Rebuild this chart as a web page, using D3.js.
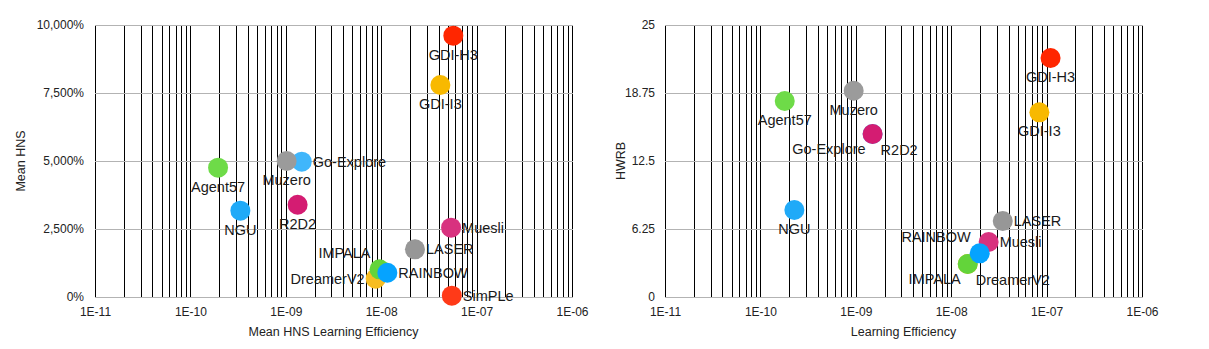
<!DOCTYPE html>
<html>
<head>
<meta charset="utf-8">
<script src="https://cdn.jsdelivr.net/npm/d3@7"></script>
<style>
  html, body { margin: 0; padding: 0; background: #fff; }
  svg { display: block; font-family: "Liberation Sans", Arial, Helvetica, sans-serif; }
</style>
</head>
<body>
<svg id="chart" width="1209" height="349"></svg>
<script>
// ---- Data ----
const models   = ["DreamerV2","Go-Explore","Muzero","R2D2","IMPALA","Muesli","RAINBOW","Agent57","NGU","LASER","SimPLe","GDI-I3","GDI-H3"];
const colors   = ["#f7bd22","#40b6fb","#9b9b9b","#d41c72","#63d43a","#d8327f","#05a3ff","#6edb48","#20aaf8","#979797","#ff3a18","#f8b900","#ff2600"];
// Left chart
const meanHnsEfficiency = [8.75e-9, 1.47e-9, 1.02e-9, 1.33e-9, 9.6e-9, 5.4e-8, 1.16e-8, 1.95e-10, 3.34e-10, 2.26e-8, 5.5e-8, 4.17e-8, 5.7e-8];
const meanHns           = [673, 4975, 5000, 3393, 1018, 2548, 893, 4754, 3173, 1753, 48, 7794, 9607];
// Right chart (SimPLe not shown)
const learningEfficiency = [1.49e-8, 1.5e-9, 9.5e-10, 1.5e-9, 1.49e-8, 2.47e-8, 1.99e-8, 1.8e-10, 2.27e-10, 3.47e-8, null, 8.4e-8, 1.1e-7];
const hwrb               = [3.03, 14.98, 18.96, 14.98, 3.03, 5.06, 4.01, 18.01, 8.0, 6.99, null, 16.97, 21.97];
// Tick labels
const xTickValues = [1e-11, 1e-10, 1e-9, 1e-8, 1e-7, 1e-6];
const xTickLabels = ["1E-11","1E-10","1E-09","1E-08","1E-07","1E-06"];
const leftYTicks  = [0, 2500, 5000, 7500, 10000];
const leftYLabels = ["0%","2,500%","5,000%","7,500%","10,000%"];
const rightYTicks  = [0, 6.25, 12.5, 18.75, 25];
const rightYLabels = ["0","6.25","12.5","18.75","25"];

// ---- Label placement (layout) ----
const leftPlacement = {
  "DreamerV2":"left","Go-Explore":"right","Muzero":"below","R2D2":"below","IMPALA":"leftAbove",
  "Muesli":"right","RAINBOW":"right","Agent57":"below","NGU":"below","LASER":"right",
  "SimPLe":"right","GDI-I3":"below","GDI-H3":"below"
};
const rightPlacement = {
  "DreamerV2":"rightBelow","Go-Explore":"leftBelow","Muzero":"below","R2D2":"rightBelow","IMPALA":"leftBelow",
  "Muesli":"right","RAINBOW":"leftAbove","Agent57":"below","NGU":"below","LASER":"right",
  "GDI-I3":"below","GDI-H3":"below"
};
const offsets = {
  below:      {dx: 0,   dy: 24, anchor: "middle"},
  right:      {dx: 11,  dy: 5,  anchor: "start"},
  left:       {dx: -11, dy: 5,  anchor: "end"},
  leftAbove:  {dx: -9,  dy: -11,anchor: "end"},
  leftBelow:  {dx: -7,  dy: 20, anchor: "end"},
  rightBelow: {dx: 8,   dy: 21, anchor: "start"}
};

const svg = d3.select("#chart");

function drawPanel(cfg) {
  const g = svg.append("g");
  const x = d3.scaleLog().domain([1e-11, 1e-6]).range([cfg.x0, cfg.x1]);
  const y = d3.scaleLinear().domain([0, cfg.yMax]).range([297, 25]);
  const px = v => Math.round(v) + 0.5;

  // vertical log grid lines (black)
  const minor = [];
  for (let e = -11; e < -6; e++) for (let m = 1; m <= 9; m++) minor.push(m * Math.pow(10, e));
  minor.push(1e-6);
  g.append("g").selectAll("line").data(minor).join("line")
    .attr("x1", d => px(x(d))).attr("x2", d => px(x(d)))
    .attr("y1", y(cfg.yMax)).attr("y2", y(0))
    .attr("stroke", "#000").attr("stroke-width", 1);

  // horizontal grid lines (gray)
  g.append("g").selectAll("line").data(cfg.yTicks).join("line")
    .attr("x1", x(1e-11)).attr("x2", x(1e-6) + 1)
    .attr("y1", d => px(y(d))).attr("y2", d => px(y(d)))
    .attr("stroke", "#b3b3b3").attr("stroke-width", 1);

  // axes (text only)
  const xAxis = d3.axisBottom(x).tickValues(xTickValues)
    .tickFormat((d, i) => xTickLabels[i]).tickSize(0).tickPadding(10);
  const xa = g.append("g").attr("transform", "translate(0,297)").call(xAxis);
  xa.select(".domain").remove();
  xa.selectAll("text").attr("font-size", 12).attr("fill", "#222")
    .attr("font-family", "Liberation Sans, Arial, sans-serif");

  const yAxis = d3.axisLeft(y).tickValues(cfg.yTicks)
    .tickFormat((d, i) => cfg.yLabels[i]).tickSize(0).tickPadding(cfg.yPad);
  const ya = g.append("g").attr("transform", `translate(${cfg.x0},0)`).call(yAxis);
  ya.select(".domain").remove();
  ya.selectAll("text").attr("font-size", 12).attr("fill", "#222")
    .attr("font-family", "Liberation Sans, Arial, sans-serif");

  // axis titles
  g.append("text").attr("x", (cfg.x0 + cfg.x1) / 2).attr("y", 336)
    .attr("text-anchor", "middle").attr("font-size", 12.5).attr("fill", "#222")
    .text(cfg.xTitle);
  g.append("text")
    .attr("transform", `translate(${cfg.yTitleX},161) rotate(-90)`)
    .attr("text-anchor", "middle").attr("font-size", 12.5).attr("fill", "#222")
    .text(cfg.yTitle);

  // points
  const pts = models.map((m, i) => ({name: m, color: colors[i], xv: cfg.xs[i], yv: cfg.ys[i]}))
    .filter(d => d.xv != null && d.yv != null);
  g.append("g").selectAll("circle").data(pts).join("circle")
    .attr("cx", d => x(d.xv)).attr("cy", d => y(d.yv)).attr("r", 10)
    .attr("fill", d => d.color);

  // labels
  g.append("g").selectAll("text").data(pts).join("text")
    .each(function(d) {
      const o = offsets[cfg.placement[d.name]];
      d3.select(this)
        .attr("x", x(d.xv) + o.dx).attr("y", y(d.yv) + o.dy)
        .attr("text-anchor", o.anchor);
    })
    .attr("font-size", 14.5).attr("fill", "#1a1a1a")
    .text(d => d.name);
}

drawPanel({
  x0: 95, x1: 572, yMax: 10000, yTicks: leftYTicks, yLabels: leftYLabels, yPad: 11,
  xs: meanHnsEfficiency, ys: meanHns, placement: leftPlacement,
  xTitle: "Mean HNS Learning Efficiency", yTitle: "Mean HNS", yTitleX: 25
});
drawPanel({
  x0: 665, x1: 1142, yMax: 25, yTicks: rightYTicks, yLabels: rightYLabels, yPad: 10,
  xs: learningEfficiency, ys: hwrb, placement: rightPlacement,
  xTitle: "Learning Efficiency", yTitle: "HWRB", yTitleX: 625
});
</script>
</body>
</html>
